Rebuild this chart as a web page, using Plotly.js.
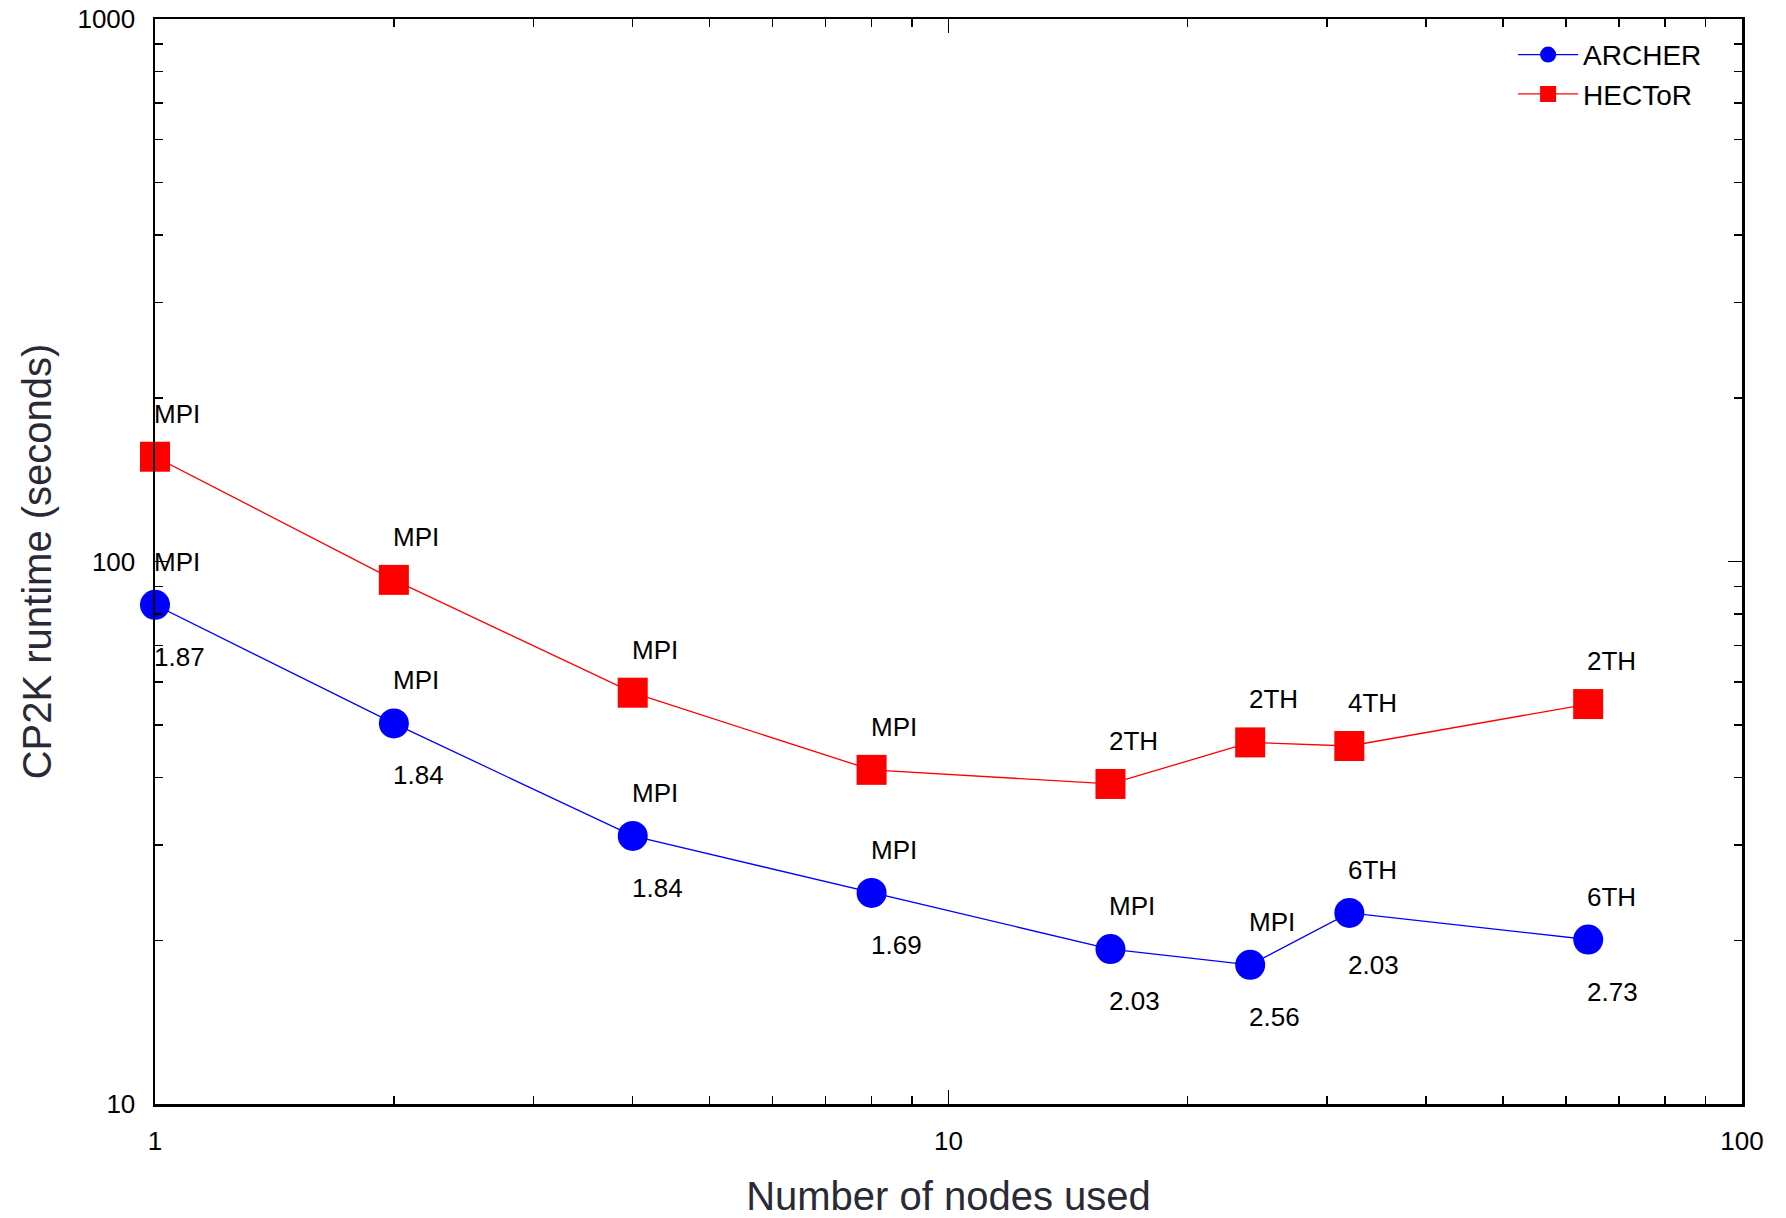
<!DOCTYPE html>
<html>
<head>
<meta charset="utf-8">
<script src="https://cdn.plot.ly/plotly-3.0.1.min.js"></script>
<style>html,body{margin:0;padding:0;background:#fff;}#chart{width:1786px;height:1218px;}</style>
</head>
<body>
<div id="chart"></div>
<script>
const nodes = [1, 2, 4, 8, 16, 24, 32, 64];
const archerRuntime = [83.2, 50.3, 31.2, 24.5, 19.3, 18.05, 22.5, 20.1];
const hectorRuntime = [156, 92.5, 57.3, 41.3, 38.9, 46.4, 45.7, 54.6];
const archerTopLabels = ["MPI", "MPI", "MPI", "MPI", "MPI", "MPI", "6TH", "6TH"];
const archerBottomLabels = ["1.87", "1.84", "1.84", "1.69", "2.03", "2.56", "2.03", "2.73"];
const hectorTopLabels = ["MPI", "MPI", "MPI", "MPI", "2TH", "2TH", "4TH", "2TH"];
const xTickVals = [1, 10, 100];
const yTickVals = [10, 100, 1000];

const minorX = [];
const minorY = [];
[1, 10].forEach(d => { for (let k = 2; k <= 9; k++) minorX.push(d * k); });
[10, 100].forEach(d => { for (let k = 2; k <= 9; k++) minorY.push(d * k); });

const FONT = "Liberation Sans, Arial, Helvetica, sans-serif";
const labelFont = {family: FONT, size: 26, color: "#000"};
const annotations = [];
function addLabels(ys, labels, shift) {
  nodes.forEach((x, i) => {
    annotations.push({
      x: Math.log10(x), y: Math.log10(ys[i]), xref: "x", yref: "y",
      text: labels[i], showarrow: false, xanchor: "left", yanchor: "middle",
      yshift: shift, xshift: -3, font: labelFont
    });
  });
}
addLabels(hectorRuntime, hectorTopLabels, 43);
addLabels(archerRuntime, archerTopLabels, 43);
addLabels(archerRuntime, archerBottomLabels, -52);

const traces = [
  {x: nodes, y: archerRuntime, name: "ARCHER", type: "scatter", mode: "lines+markers", cliponaxis: false,
   line: {color: "#0000ff", width: 1.3}, marker: {symbol: "circle", size: 30, color: "#0000ff"}},
  {x: nodes, y: hectorRuntime, name: "HECToR", type: "scatter", mode: "lines+markers", cliponaxis: false,
   line: {color: "#ff0000", width: 1.3}, marker: {symbol: "square", size: 30, color: "#ff0000"}}
];

const axisCommon = {
  type: "log", showgrid: false, zeroline: false, showline: true, linecolor: "#000", linewidth: 2.5,
  mirror: "ticks", ticks: "inside", ticklen: 14, tickwidth: 1.5, tickcolor: "#000",
  tickfont: {family: FONT, size: 26, color: "#000"},
  tickmode: "array"
};

const layout = {
  width: 1786, height: 1218,
  margin: {l: 155, r: 44, t: 19, b: 114},
  paper_bgcolor: "#fff", plot_bgcolor: "#fff",
  showlegend: true,
  legend: {x: 0.978, y: 0.99, xanchor: "right", yanchor: "top", bgcolor: "rgba(0,0,0,0)",
           font: {family: FONT, size: 28, color: "#000"},
           tracegroupgap: 0, itemwidth: 60},
  xaxis: Object.assign({}, axisCommon, {
    range: [0, 2], tickvals: xTickVals, ticktext: xTickVals.map(String), ticklabelstandoff: 12,
    minor: {tickvals: minorX, ticks: "inside", ticklen: 8, tickwidth: 1.5, tickcolor: "#000"},
    title: {text: "Number of nodes used", standoff: 28,
            font: {family: FONT, size: 40, color: "#2a2a36"}}
  }),
  yaxis: Object.assign({}, axisCommon, {
    range: [1, 3], tickvals: yTickVals, ticktext: yTickVals.map(String), ticklabelstandoff: 12,
    minor: {tickvals: minorY, ticks: "inside", ticklen: 8, tickwidth: 1.5, tickcolor: "#000"},
    title: {text: "CP2K runtime (seconds)", standoff: 14,
            font: {family: FONT, size: 40, color: "#2a2a36"}}
  }),
  annotations: annotations
};

Plotly.newPlot("chart", traces, layout, {displayModeBar: false, staticPlot: true});
</script>
</body>
</html>
